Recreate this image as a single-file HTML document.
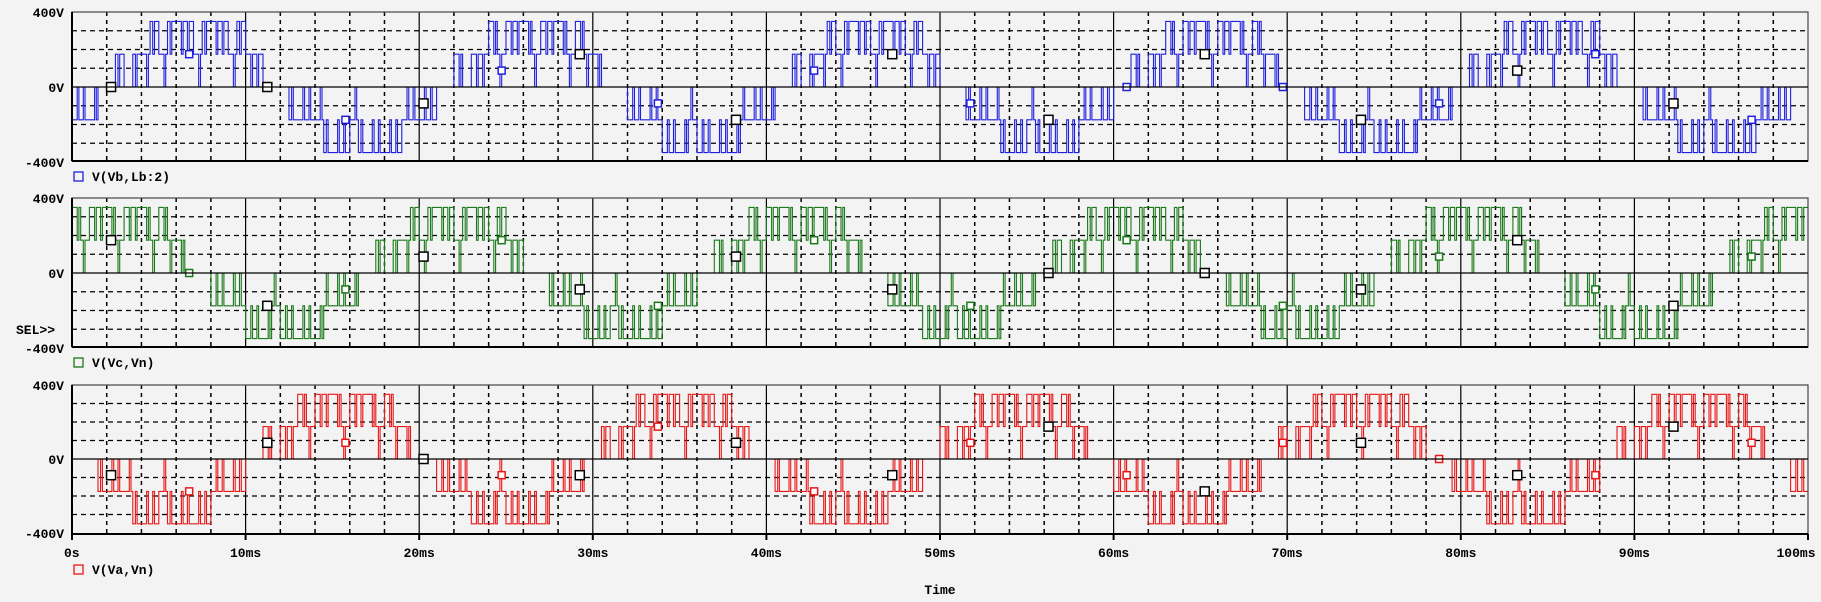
<!DOCTYPE html>
<html><head><meta charset="utf-8">
<style>
html,body{margin:0;padding:0;background:#f3f3f3;}
svg{display:block;font-family:"Liberation Mono","DejaVu Sans Mono",monospace;font-weight:bold;}
</style></head>
<body>
<svg id="chart" width="1821" height="602" viewBox="0 0 1821 602" xmlns="http://www.w3.org/2000/svg">
<rect x="0" y="0" width="1821" height="602" fill="#f3f3f3"/>
</svg>
<script>
// ---- data (0.5 ms per sample, volts) ----
const sampleStepMs = 0.5;
const xTickLabels = ["0s","10ms","20ms","30ms","40ms","50ms","60ms","70ms","80ms","90ms","100ms"];
const yTickLabels = ["400V","0V","-400V"];
const seriesNames = ["V(Vb,Lb:2)","V(Vc,Vn)","V(Va,Vn)"];
const vbValues = [
-175,-175,-175,0,0,175,0,175,175,350,175,350,350,350,175,350,350,350,175,350,175,175,0,0,0,-175,-175,-175,-175,-350,-350,-350,-175,-350,-350,-350,-350,-350,-175,
-175,-175,-175,0,0,175,0,175,175,350,175,350,350,350,175,350,350,350,175,350,175,175,0,0,0,-175,-175,-175,-175,-350,-350,-350,-175,-350,-350,-350,-350,-350,-175,
-175,-175,-175,0,0,175,0,175,175,350,175,350,350,350,175,350,350,350,175,350,175,175,0,0,0,-175,-175,-175,-175,-350,-350,-350,-175,-350,-350,-350,-350,-350,-175,
-175,-175,-175,0,0,175,0,175,175,350,175,350,350,350,175,350,350,350,175,350,175,175,0,0,0,-175,-175,-175,-175,-350,-350,-350,-175,-350,-350,-350,-350,-350,-175,
-175,-175,-175,0,0,175,0,175,175,350,175,350,350,350,175,350,350,350,175,350,175,175,0,0,0,-175,-175,-175,-175,-350,-350,-350,-175,-350,-350,-350,-350,-350,-175,
-175,-175,-175,0,0];
const vcValues = [
350,175,350,350,350,175,350,350,350,175,350,175,175,0,0,0,-175,-175,-175,-175,-350,-350,-350,-175,-350,-350,-350,-350,-350,-175,-175,-175,-175,0,0,175,0,175,175,
350,175,350,350,350,175,350,350,350,175,350,175,175,0,0,0,-175,-175,-175,-175,-350,-350,-350,-175,-350,-350,-350,-350,-350,-175,-175,-175,-175,0,0,175,0,175,175,
350,175,350,350,350,175,350,350,350,175,350,175,175,0,0,0,-175,-175,-175,-175,-350,-350,-350,-175,-350,-350,-350,-350,-350,-175,-175,-175,-175,0,0,175,0,175,175,
350,175,350,350,350,175,350,350,350,175,350,175,175,0,0,0,-175,-175,-175,-175,-350,-350,-350,-175,-350,-350,-350,-350,-350,-175,-175,-175,-175,0,0,175,0,175,175,
350,175,350,350,350,175,350,350,350,175,350,175,175,0,0,0,-175,-175,-175,-175,-350,-350,-350,-175,-350,-350,-350,-350,-350,-175,-175,-175,-175,0,0,175,0,175,175,
350,175,350,350,350];
const vaValues = [
0,0,0,-175,-175,-175,-175,-350,-350,-350,-175,-350,-350,-350,-350,-350,-175,-175,-175,-175,0,0,175,0,175,175,350,175,350,350,350,175,350,350,350,175,350,175,175,
0,0,0,-175,-175,-175,-175,-350,-350,-350,-175,-350,-350,-350,-350,-350,-175,-175,-175,-175,0,0,175,0,175,175,350,175,350,350,350,175,350,350,350,175,350,175,175,
0,0,0,-175,-175,-175,-175,-350,-350,-350,-175,-350,-350,-350,-350,-350,-175,-175,-175,-175,0,0,175,0,175,175,350,175,350,350,350,175,350,350,350,175,350,175,175,
0,0,0,-175,-175,-175,-175,-350,-350,-350,-175,-350,-350,-350,-350,-350,-175,-175,-175,-175,0,0,175,0,175,175,350,175,350,350,350,175,350,350,350,175,350,175,175,
0,0,0,-175,-175,-175,-175,-350,-350,-350,-175,-350,-350,-350,-350,-350,-175,-175,-175,-175,0,0,175,0,175,175,350,175,350,350,350,175,350,350,350,175,350,175,175,
0,0,0,-175,-175];

const svg = document.getElementById('chart');
const NS = 'http://www.w3.org/2000/svg';
const X0 = 72, X1 = 1808;
const LEVEL = 175;
const panels = [
  {top:12, zero:87, bottom:161, values:vbValues, color:'#2020e0', name:'top-panel', legendY:180, legend:seriesNames[0], series:'vb-series'},
  {top:198, zero:273, bottom:347, values:vcValues, color:'#1a7a1a', name:'middle-panel', legendY:366, legend:seriesNames[1], series:'vc-series'},
  {top:385, zero:459, bottom:534, values:vaValues, color:'#e81818', name:'bottom-panel', legendY:573, legend:seriesNames[2], series:'va-series'}
];
function xs(ms){ return X0 + (X1-X0)*ms/100; }
function mk(tag, attrs, parent){
  const e = document.createElementNS(NS, tag);
  for (const k in attrs) e.setAttribute(k, attrs[k]);
  (parent||svg).appendChild(e);
  return e;
}
panels.forEach(function(p){
  const ys = function(v){ return p.zero - v*(p.zero-p.top)/400; };
  const g = mk('g', {});
  
  
  for (let v=-300; v<=300; v+=100){
    if (v===0) continue;
    const l = mk('line', {x1:X0, x2:X1, y1:ys(v), y2:ys(v), stroke:'#000', 'stroke-width':1.3, 'stroke-dasharray':'5,4'}, g);
    
    
  }
  for (let t=2; t<100; t+=2){
    const solid = t%10===0;
    const l = mk('line', {x1:xs(t), x2:xs(t), y1:p.top, y2:p.bottom, stroke:'#000', 'stroke-width':solid?1.2:1.5, 'stroke-dasharray':solid?'none':'4,4'}, g);
    
    
  }
  // waveform: each sample drawn as a PWM bin with one switching pulse toward the adjacent lower level
  let d = '';
  p.values.forEach(function(v,i){
    const t0 = i*sampleStepMs, t1 = Math.min(100,(i+1)*sampleStepMs);
    const lower = v===0 ? 0 : v - Math.sign(v)*LEVEL;
    const a = i%2 ? 0.3 : 0.6, b = a + 0.2;
    const pts = [[t0,v],[t0+a*(t1-t0),v],[t0+a*(t1-t0),lower],[t0+b*(t1-t0),lower],[t0+b*(t1-t0),v],[t1,v]];
    pts.forEach(function(q,j){
      d += ((i===0 && j===0) ? 'M' : 'L') + xs(q[0]).toFixed(1) + ',' + ys(q[1]).toFixed(1);
    });
  });
  const path = mk('path', {d:d, fill:'none', stroke:p.color, 'stroke-width':1.1}, g);
  
  
  p.values.forEach(function(v,i){
    if (i%9!==4) return;
    const big = (i%18===4);
    const s = big?9:7;
    const r = mk('rect', {x:xs(i*sampleStepMs+0.25)-s/2, y:ys(v*0.5)-s/2, width:s, height:s, fill:'#fff', stroke:big?'#000':p.color, 'stroke-width':1.5}, g);
    
    
  });
  const fr = mk('rect', {x:X0, y:p.top, width:X1-X0, height:p.bottom-p.top, fill:'none', stroke:'#444', 'stroke-width':1.2}, g);
  
  
  const zl = mk('line', {x1:X0, x2:X1, y1:p.zero, y2:p.zero, stroke:'#000', 'stroke-width':1.2}, g);
  
  
  const ya = mk('line', {x1:X0, x2:X0, y1:p.top, y2:p.bottom, stroke:'#000', 'stroke-width':2}, g);
  
  
  const xa = mk('line', {x1:X0, x2:X1, y1:p.bottom, y2:p.bottom, stroke:'#000', 'stroke-width':2}, g);
  
  
  [400,0,-400].forEach(function(v,k){
    const t = mk('text', {x:64, y:ys(v)+5, 'text-anchor':'end', 'font-size':13, fill:'#000'}, g);
    t.textContent = yTickLabels[k];
    
    
  });
  const lg = mk('g', {}, g);
  
  
  const sq = mk('rect', {x:74, y:p.legendY-8, width:9, height:9, fill:'none', stroke:p.color, 'stroke-width':1.3}, lg);
  
  
  const lt = mk('text', {x:92, y:p.legendY+1, 'font-size':13, fill:'#000'}, lg);
  lt.textContent = p.legend;
  
  
});
xTickLabels.forEach(function(lbl,k){
  const x = xs(k*10);
  const tk = mk('line', {x1:x, x2:x, y1:534, y2:540, stroke:'#000', 'stroke-width':2});
  
  
  const t = mk('text', {x:k===10?x-12:x, y:557, 'text-anchor':k===0?'start':'middle', 'font-size':13, fill:'#000'});
  if (k===0) t.setAttribute('x', x-8);
  t.textContent = lbl;
  
  
});
const sel = mk('text', {x:16, y:334, 'font-size':13, fill:'#000'});
sel.textContent = 'SEL>>';


const tt = mk('text', {x:940, y:594, 'text-anchor':'middle', 'font-size':13, fill:'#000'});
tt.textContent = 'Time';


</script>
</body></html>
